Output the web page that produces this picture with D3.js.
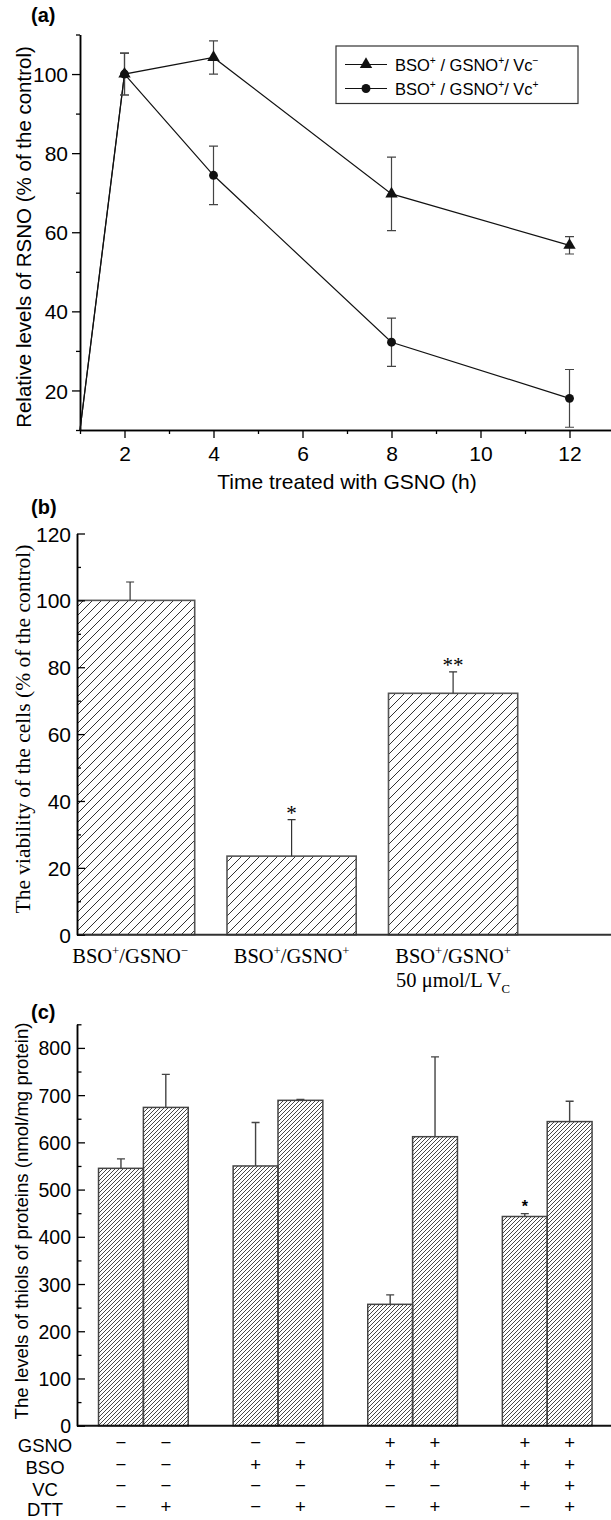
<!DOCTYPE html>
<html>
<head>
<meta charset="utf-8">
<script src="https://cdn.jsdelivr.net/npm/d3@7"></script>
<style>
  body { margin: 0; background: #fff; }
  svg { display: block; }
</style>
</head>
<body>
<script>
// ---- data: panel (a) RSNO time course ----
const startPoint = [1, 10];
const timeH = [2, 4, 8, 12];
const rsnoVcMinus = [100, 104.2, 69.7, 56.7];
const rsnoVcMinusErr = [5.3, 4.2, 9.3, 2.2];
const rsnoVcPlus = [100, 74.4, 32.2, 18.0];
const rsnoVcPlusErr = [5.3, 7.4, 6.1, 7.3];
const xTicksA = [2, 4, 6, 8, 10, 12];
const xMinorA = [1, 3, 5, 7, 9, 11, 13];
const yTicksA = [20, 40, 60, 80, 100];
const yMinorA = [10, 30, 50, 70, 90, 110];

// ---- data: panel (b) viability ----
const viabilityGroups = ["g1", "g2", "g3"];
const viability = [100, 23.5, 72.2];
const viabilityErr = [5.5, 10.9, 6.4];
const viabilityMarks = ["", "*", "**"];
const yTicksB = [0, 20, 40, 60, 80, 100, 120];
const yMinorB = [10, 30, 50, 70, 90, 110];

// ---- data: panel (c) protein thiols ----
const thiolGroups = ["g1", "g2", "g3", "g4"];
const thiolNoDTT = [545, 550, 257, 443];
const thiolNoDTTErr = [20, 92, 20, 6];
const thiolDTT = [674, 689, 612, 644];
const thiolDTTErr = [70, 2, 169, 43];
const thiolMarks = ["", "", "", "*"];
const yTicksC = [0, 100, 200, 300, 400, 500, 600, 700, 800];
const yMinorC = [50, 150, 250, 350, 450, 550, 650, 750, 850];
const treatRows = ["GSNO", "BSO", "VC", "DTT"];
const treatSigns = [
  ["−", "−", "−", "−", "+", "+", "+", "+"],
  ["−", "−", "+", "+", "+", "+", "+", "+"],
  ["−", "−", "−", "−", "−", "−", "+", "+"],
  ["−", "+", "−", "+", "−", "+", "−", "+"],
];

const SANS = "'Liberation Sans', Arial, Helvetica, sans-serif";
const SERIF = "'Liberation Serif', 'Times New Roman', serif";

const svg = d3.select("body").append("svg")
  .attr("width", 611)
  .attr("height", 1520);

svg.append("rect").attr("width", 611).attr("height", 1520).attr("fill", "#fff");

const defs = svg.append("defs");
defs.append("pattern")
  .attr("id", "hatchB")
  .attr("patternUnits", "userSpaceOnUse")
  .attr("width", 9).attr("height", 9)
  .append("path")
  .attr("d", "M-2,2 L2,-2 M0,9 L9,0 M7,11 L11,7")
  .attr("stroke", "#333").attr("stroke-width", 1);
defs.append("pattern")
  .attr("id", "hatchC")
  .attr("patternUnits", "userSpaceOnUse")
  .attr("width", 4).attr("height", 4)
  .append("path")
  .attr("d", "M-1,1 L1,-1 M0,4 L4,0 M3,5 L5,3")
  .attr("stroke", "#333").attr("stroke-width", 0.9);
defs.append("clipPath").attr("id", "clipB")
  .append("rect").attr("x", 77).attr("y", 0).attr("width", 600).attr("height", 1520);

// text with superscript / subscript pieces
function richText(sel, parts, fs) {
  let shift = 0;
  parts.forEach(([s, kind]) => {
    const target = kind === "sup" ? -fs * 0.38 : kind === "sub" ? fs * 0.28 : 0;
    sel.append("tspan")
      .attr("dy", target - shift)
      .attr("font-size", kind ? fs * 0.62 : fs)
      .text(s);
    shift = target;
  });
}

function styleAxis(g, fs, family, width) {
  g.select(".domain").attr("stroke", "#000").attr("stroke-width", width);
  g.selectAll(".tick line").attr("stroke", "#000").attr("stroke-width", 1.3);
  g.selectAll(".tick text").attr("font-size", fs).attr("font-family", family).attr("fill", "#000");
}

function panelLabel(txt, x, y) {
  svg.append("text")
    .attr("x", x).attr("y", y)
    .attr("font-family", SANS).attr("font-weight", "bold").attr("font-size", 20)
    .text(txt);
}

function yTitle(txt, x, y, fs, family) {
  svg.append("text")
    .attr("transform", `translate(${x},${y}) rotate(-90)`)
    .attr("text-anchor", "middle")
    .attr("dominant-baseline", "central")
    .attr("font-family", family).attr("font-size", fs)
    .text(txt);
}

// ================= panel (a) =================
const xA = d3.scaleLinear().domain([1, 13]).range([80, 614]);
const yA = d3.scaleLinear().domain([10, 110]).range([430, 34.5]);

svg.append("g").attr("transform", "translate(0,430)")
  .call(d3.axisBottom(xA).tickValues(xMinorA).tickSize(4).tickSizeOuter(0).tickFormat(""))
  .call(g => styleAxis(g, 21, SANS, 1.5));
svg.append("g").attr("transform", "translate(0,430)")
  .call(d3.axisBottom(xA).tickValues(xTicksA).tickSize(8).tickPadding(8.5).tickSizeOuter(0))
  .call(g => styleAxis(g, 21, SANS, 1.5));
svg.append("g").attr("transform", "translate(80,0)")
  .call(d3.axisLeft(yA).tickValues(yMinorA).tickSize(4).tickSizeOuter(0).tickFormat(""))
  .call(g => styleAxis(g, 21, SANS, 1.5));
svg.append("g").attr("transform", "translate(80,0)")
  .call(d3.axisLeft(yA).tickValues(yTicksA).tickSize(8).tickPadding(4).tickSizeOuter(0))
  .call(g => styleAxis(g, 21, SANS, 1.5))
  .call(g => g.selectAll(".tick text").attr("dy", "0.36em"));

const seriesA = [
  { vals: rsnoVcMinus, err: rsnoVcMinusErr, sym: d3.symbolTriangle, size: 66 },
  { vals: rsnoVcPlus, err: rsnoVcPlusErr, sym: d3.symbolCircle, size: 62 },
];
const lineA = d3.line().x(d => xA(d[0])).y(d => yA(d[1]));

seriesA.forEach(s => {
  const pts = [startPoint].concat(timeH.map((t, i) => [t, s.vals[i]]));
  svg.append("path").datum(pts)
    .attr("d", lineA).attr("fill", "none")
    .attr("stroke", "#111").attr("stroke-width", 1.2);
});

seriesA.forEach(s => {
  const g = svg.append("g");
  timeH.forEach((t, i) => {
    const cx = xA(t);
    const y1 = yA(s.vals[i] + s.err[i]);
    const y0 = yA(s.vals[i] - s.err[i]);
    g.append("path")
      .attr("d", `M${cx},${y1}V${y0}M${cx - 4.5},${y1}H${cx + 4.5}M${cx - 4.5},${y0}H${cx + 4.5}`)
      .attr("stroke", "#444").attr("stroke-width", 1.2).attr("fill", "none");
  });
});

seriesA.forEach(s => {
  svg.append("g").selectAll("path")
    .data(timeH.map((t, i) => [t, s.vals[i]]))
    .join("path")
    .attr("transform", d => `translate(${xA(d[0])},${yA(d[1])})`)
    .attr("d", d3.symbol().type(s.sym).size(s.size))
    .attr("fill", "#111");
});

// legend
const leg = svg.append("g");
leg.append("rect")
  .attr("x", 336).attr("y", 46).attr("width", 242).attr("height", 57.5)
  .attr("fill", "#fff").attr("stroke", "#333").attr("stroke-width", 1.2);
const legendRows = [
  { parts: [["BSO"], ["+", "sup"], [" / GSNO"], ["+", "sup"], ["/ Vc"], ["−", "sup"]], s: seriesA[0], y: 64.5 },
  { parts: [["BSO"], ["+", "sup"], [" / GSNO"], ["+", "sup"], ["/ Vc"], ["+", "sup"]], s: seriesA[1], y: 88.5 },
];
legendRows.forEach(r => {
  leg.append("line").attr("x1", 345).attr("x2", 387).attr("y1", r.y).attr("y2", r.y)
    .attr("stroke", "#111").attr("stroke-width", 1.2);
  leg.append("path").attr("transform", `translate(366,${r.y})`)
    .attr("d", d3.symbol().type(r.s.sym).size(r.s.size)).attr("fill", "#111");
  const t = leg.append("text").attr("x", 395).attr("y", r.y + 6)
    .attr("font-family", SANS).attr("font-size", 16.5);
  richText(t, r.parts, 16.5);
});

panelLabel("(a)", 31, 22);
yTitle("Relative levels of RSNO (% of the control)", 23, 237, 20.5, SANS);
svg.append("text")
  .attr("x", 347).attr("y", 489)
  .attr("text-anchor", "middle")
  .attr("font-family", SANS).attr("font-size", 21)
  .text("Time treated with GSNO (h)");

// ================= panel (b) =================
const xB = d3.scaleBand().domain(viabilityGroups).range([49.35, 533.85])
  .paddingInner(0.2).paddingOuter(0.1);
const yB = d3.scaleLinear().domain([0, 120]).range([934.7, 533.5]);

const barsB = svg.append("g").attr("clip-path", "url(#clipB)");
barsB.selectAll("rect")
  .data(viability)
  .join("rect")
  .attr("x", (d, i) => xB(viabilityGroups[i]))
  .attr("y", d => yB(d))
  .attr("width", xB.bandwidth())
  .attr("height", d => yB(0) - yB(d))
  .attr("fill", "url(#hatchB)")
  .attr("stroke", "#555").attr("stroke-width", 1.6);

viability.forEach((v, i) => {
  const cx = xB(viabilityGroups[i]) + xB.bandwidth() / 2;
  const yt = yB(v + viabilityErr[i]);
  svg.append("path")
    .attr("d", `M${cx},${yB(v)}V${yt}M${cx - 4},${yt}H${cx + 4}`)
    .attr("stroke", "#333").attr("stroke-width", 1.2).attr("fill", "none");
  if (viabilityMarks[i]) {
    svg.append("text").attr("x", cx).attr("y", yt + 0.5)
      .attr("text-anchor", "middle")
      .attr("font-family", SERIF).attr("font-size", 21)
      .text(viabilityMarks[i]);
  }
});

svg.append("line").attr("x1", 77).attr("x2", 611).attr("y1", yB(0)).attr("y2", yB(0))
  .attr("stroke", "#333").attr("stroke-width", 2);
svg.append("g").attr("transform", "translate(77,0)")
  .call(d3.axisLeft(yB).tickValues(yMinorB).tickSize(-4).tickSizeOuter(0).tickFormat(""))
  .call(g => styleAxis(g, 21, SANS, 1.5));
svg.append("g").attr("transform", "translate(77,0)")
  .call(d3.axisLeft(yB).tickValues(yTicksB).tickSize(-8).tickPadding(6).tickSizeOuter(0))
  .call(g => styleAxis(g, 21, SANS, 1.5))
  .call(g => g.selectAll(".tick text").attr("dy", "0.36em"));

const labelsB = [
  [[["BSO"], ["+", "sup"], ["/GSNO"], ["−", "sup"]]],
  [[["BSO"], ["+", "sup"], ["/GSNO"], ["+", "sup"]]],
  [[["BSO"], ["+", "sup"], ["/GSNO"], ["+", "sup"]], [["50 μmol/L V"], ["C", "sub"]]],
];
labelsB.forEach((lines, i) => {
  const cx = xB(viabilityGroups[i]) + xB.bandwidth() / 2;
  lines.forEach((parts, k) => {
    const t = svg.append("text").attr("x", cx).attr("y", 963 + k * 24)
      .attr("text-anchor", "middle")
      .attr("font-family", SERIF).attr("font-size", 20.5);
    richText(t, parts, 20.5);
  });
});

panelLabel("(b)", 31, 514);
yTitle("The viability of the cells (% of the control)", 23, 729, 21.5, SERIF);

// ================= panel (c) =================
const xC = d3.scaleBand().domain(thiolGroups).range([77, 613.6])
  .paddingInner(0.3336).paddingOuter(0.16);
const xC1 = d3.scaleBand().domain([0, 1]).range([0, xC.bandwidth()]);
const yC = d3.scaleLinear().domain([0, 850]).range([1425.7, 1024.3]);

const cBars = [];
thiolGroups.forEach((g, i) => {
  cBars.push({ g, k: 0, v: thiolNoDTT[i], e: thiolNoDTTErr[i], m: thiolMarks[i] });
  cBars.push({ g, k: 1, v: thiolDTT[i], e: thiolDTTErr[i], m: "" });
});

svg.append("g").selectAll("rect")
  .data(cBars)
  .join("rect")
  .attr("x", d => xC(d.g) + xC1(d.k))
  .attr("y", d => yC(d.v))
  .attr("width", xC1.bandwidth())
  .attr("height", d => yC(0) - yC(d.v))
  .attr("fill", "url(#hatchC)")
  .attr("stroke", "#444").attr("stroke-width", 1.5);

cBars.forEach(d => {
  const cx = xC(d.g) + xC1(d.k) + xC1.bandwidth() / 2;
  const yt = yC(d.v + d.e);
  svg.append("path")
    .attr("d", `M${cx},${yC(d.v)}V${yt}M${cx - 4},${yt}H${cx + 4}`)
    .attr("stroke", "#444").attr("stroke-width", 1.4).attr("fill", "none");
  if (d.m) {
    svg.append("text").attr("x", cx).attr("y", yt - 1.5)
      .attr("text-anchor", "middle")
      .attr("font-family", SANS).attr("font-weight", "bold").attr("font-size", 16)
      .text(d.m);
  }
});

svg.append("line").attr("x1", 77).attr("x2", 611).attr("y1", yC(0)).attr("y2", yC(0))
  .attr("stroke", "#111").attr("stroke-width", 2);
svg.append("g").attr("transform", "translate(77,0)")
  .call(d3.axisLeft(yC).tickValues(yMinorC).tickSize(-4.5).tickSizeOuter(0).tickFormat(""))
  .call(g => styleAxis(g, 19.5, SANS, 1.5));
svg.append("g").attr("transform", "translate(77,0)")
  .call(d3.axisLeft(yC).tickValues(yTicksC).tickSize(-8).tickPadding(6).tickSizeOuter(0))
  .call(g => styleAxis(g, 19.5, SANS, 1.5))
  .call(g => g.selectAll(".tick text").attr("dy", "0.36em"));

// treatment table
const rowBase = [1452, 1474, 1495.5, 1516];
treatRows.forEach((name, r) => {
  svg.append("text").attr("x", 45).attr("y", rowBase[r])
    .attr("text-anchor", "middle")
    .attr("font-family", SANS).attr("font-size", 18.5)
    .text(name);
  treatSigns[r].forEach((s, j) => {
    const d = cBars[j];
    const cx = xC(d.g) + xC1(d.k) + xC1.bandwidth() / 2;
    svg.append("text").attr("x", cx).attr("y", rowBase[r] - 3.5)
      .attr("text-anchor", "middle")
      .attr("font-family", SANS).attr("font-size", 18.5)
      .text(s);
  });
});

panelLabel("(c)", 31, 1019);
yTitle("The levels of thiols of proteins (nmol/mg protein)", 21.5, 1221, 18.6, SANS);
</script>
</body>
</html>
